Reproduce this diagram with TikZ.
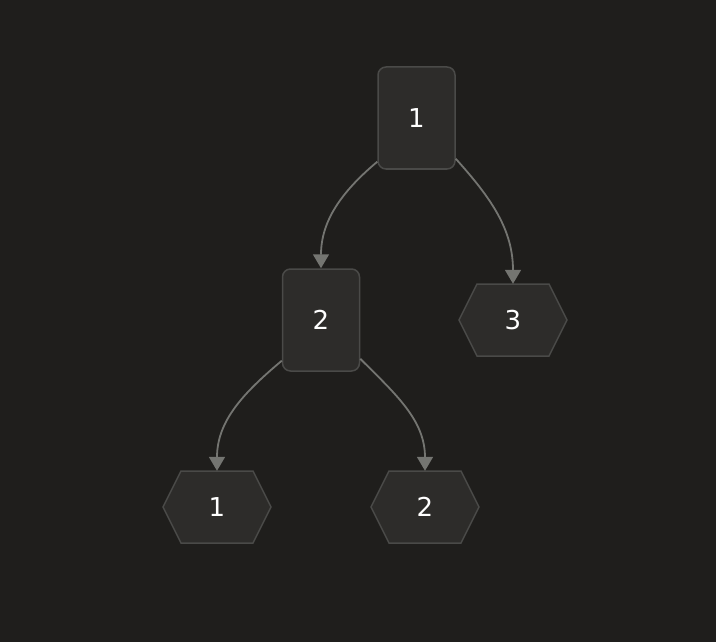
\documentclass[tikz,border=0pt]{standalone}
\usepackage{fontspec}
\setmainfont{DejaVu Sans}
\usetikzlibrary{arrows.meta}
\definecolor{bgcol}{HTML}{1F1E1C}
\definecolor{nodefill}{HTML}{2D2C2A}
\definecolor{nodeline}{HTML}{4A4A48}
\definecolor{edgecol}{HTML}{747571}
\tikzset{
  treebox/.style={draw=nodeline, fill=nodefill, line width=1.5pt, rounded corners=8pt,
    minimum width=77pt, minimum height=102pt, inner sep=0pt, text=white, font=\fontsize{26}{30}\selectfont},
  leafhex/.style={minimum width=108pt, minimum height=72pt, inner sep=0pt, text=white, font=\fontsize{26}{30}\selectfont},
  hexline/.style={draw=nodeline, fill=nodefill, line width=1.5pt, line join=miter},
  edge/.style={draw=edgecol, line width=1.8pt, -{Triangle[width=16pt,length=14pt]}}
}
\begin{document}
\begin{tikzpicture}[x=1pt, y=-1pt]
\useasboundingbox[fill=bgcol] (0,0) rectangle (716,642);
% hexagon outlines first, then the labels on top
\foreach \cx/\cy in {513/320, 217/507, 425/507}
  \draw[hexline] (\cx-54,\cy) -- (\cx-36,\cy-36) -- (\cx+36,\cy-36) -- (\cx+54,\cy)
    -- (\cx+36,\cy+36) -- (\cx-36,\cy+36) -- cycle;
\node[treebox] (root) at (416.5,118) {1};
\node[treebox] (inner) at (321,320) {2};
\node[leafhex] (leafc) at (513,320) {3};
\node[leafhex] (leafa) at (217,507) {1};
\node[leafhex] (leafb) at (425,507) {2};
\draw[edge] ([yshift=8pt]root.south west) to[out=220, in=90] (inner.north);
\draw[edge] ([yshift=11pt]root.south east) to[out=-48, in=90] (leafc.north);
\draw[edge] ([yshift=11pt]inner.south west) to[out=220, in=90] (leafa.north);
\draw[edge] ([yshift=13pt]inner.south east) to[out=-45, in=90] (leafb.north);
\end{tikzpicture}
\end{document}
